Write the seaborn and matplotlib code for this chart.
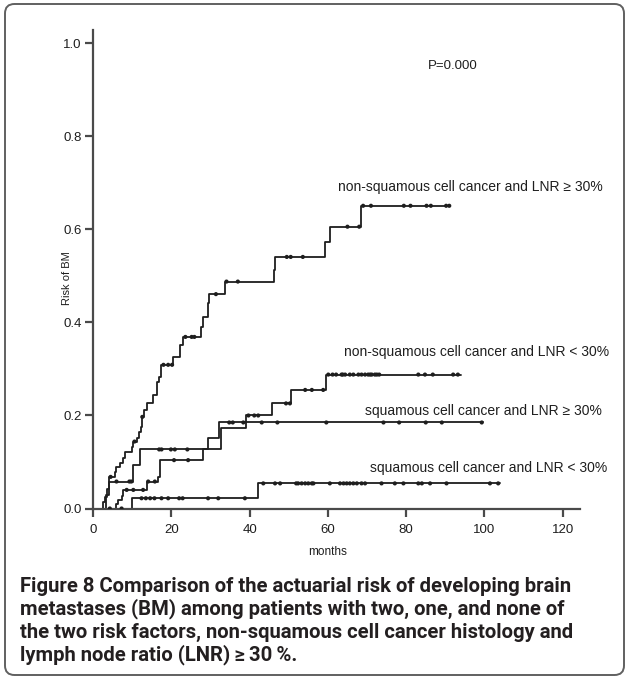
import numpy as np
import pandas as pd
import seaborn as sns
import matplotlib
matplotlib.use("Agg")
import matplotlib.pyplot as plt
from matplotlib.patches import FancyBboxPatch

# step curves (months, cumulative risk)
labels = [
    "non-squamous cell cancer and LNR \u2265 30%",
    "non-squamous cell cancer and LNR < 30%",
    "squamous cell cancer and LNR \u2265 30%",
    "squamous cell cancer and LNR < 30%",
]

times_a = [0, 2.6, 3.1, 3.7, 4.0, 5.6, 6.0, 6.9, 7.7, 8.3, 10.0, 10.3, 11.2, 11.8,
           12.2, 12.4, 13.0, 13.7, 15.2, 16.4, 16.9, 17.3, 20.5, 22.2, 23.0, 27.5,
           28.0, 29.5, 29.7, 33.7, 46.2, 46.5, 59.3, 60.5, 68.4, 91.2]
risk_a = [0, 0.015, 0.025, 0.043, 0.068, 0.079, 0.09, 0.097, 0.108, 0.122, 0.133,
          0.144, 0.151, 0.165, 0.176, 0.197, 0.212, 0.226, 0.244, 0.273, 0.283, 0.309,
          0.326, 0.351, 0.369, 0.391, 0.412, 0.441, 0.461, 0.488, 0.513, 0.541, 0.573,
          0.606, 0.651, 0.651]
cens_a = [4.5, 10.6, 12.6, 18.0, 19.2, 20.2, 23.6, 25.2, 25.9, 31.4, 34.1, 37.0,
          49.5, 50.5, 53.6, 65.0, 68.0, 69.0, 71.0, 79.4, 81.1, 85.2, 86.3, 90.2, 91.0]

times_b = [0, 6.0, 6.5, 7.3, 7.7, 13.7, 16.7, 17.1, 28.2, 32.6, 39.0, 45.6, 50.7, 59.6, 94.0]
risk_b = [0, 0.009, 0.018, 0.027, 0.04, 0.058, 0.068, 0.104, 0.127, 0.174, 0.2,
          0.226, 0.255, 0.288, 0.288]
cens_b = [8.6, 10.3, 12.8, 14.1, 15.8, 20.7, 24.3, 39.7, 41.2, 42.2, 49.3, 50.3,
          54.2, 55.9, 58.8, 60.1, 61.2, 62.1, 63.5, 63.8, 64.4, 65.6, 66.5, 67.8,
          68.6, 69.5, 70.3, 70.8, 71.2, 72.0, 72.5, 73.1, 83.1, 84.8, 86.8, 92.0, 93.2]

times_c = [0, 3.3, 4.2, 10.1, 12.1, 29.5, 32.3, 99.5]
risk_c = [0, 0.03, 0.058, 0.094, 0.127, 0.151, 0.185, 0.185]
cens_c = [6.0, 9.3, 9.8, 16.9, 17.5, 19.9, 20.9, 24.1, 34.8, 35.7, 38.4, 43.1, 47.1,
          59.6, 74.2, 78.2, 85.0, 89.1, 99.3]

times_d = [0, 9.9, 42.1, 104.0]
risk_d = [0, 0.022, 0.054, 0.054]
cens_d = [4.3, 7.3, 12.4, 13.5, 14.6, 15.7, 17.5, 19.2, 22.0, 22.9, 29.4, 32.0, 38.8,
          43.5, 46.5, 47.8, 51.9, 52.4, 53.3, 54.2, 55.0, 55.9, 56.3, 60.5, 63.1, 64.0,
          64.8, 65.6, 66.5, 67.4, 68.6, 69.5, 73.7, 77.1, 79.3, 83.1, 84.0, 86.1, 90.3,
          101.4, 103.5]

# label positions (months, risk) - left aligned text
label_x = [62.6, 64.0, 69.5, 70.7]
label_y = [0.692, 0.337, 0.21, 0.088]

p_text = "P=0.000"
caption = [
    "Figure 8 Comparison of the actuarial risk of developing brain",
    "metastases (BM) among patients with two, one, and none of",
    "the two risk factors, non-squamous cell cancer histology and",
    "lymph node ratio (LNR)\u2009\u2265\u200930\u2009%.",
]

curves = [(times_a, risk_a, cens_a), (times_b, risk_b, cens_b),
          (times_c, risk_c, cens_c), (times_d, risk_d, cens_d)]

line_rows, mark_rows = [], []
for lab, (t, r, c) in zip(labels, curves):
    for ti, ri in zip(t, r):
        line_rows.append((lab, ti, ri))
    t_arr, r_arr = np.array(t), np.array(r)
    for ci in c:
        idx = np.searchsorted(t_arr, ci, side="right") - 1
        mark_rows.append((lab, ci, r_arr[idx]))
lines = pd.DataFrame(line_rows, columns=["group", "months", "risk"])
marks = pd.DataFrame(mark_rows, columns=["group", "months", "risk"])

sns.set_style("ticks")
plt.rcParams["font.family"] = ["Liberation Sans", "DejaVu Sans"]

fig = plt.figure(figsize=(6.29, 6.79), dpi=100)
ax = fig.add_axes([93 / 629, 1 - 508.5 / 679, 487 / 629, 478.5 / 679])

ink = "#1e1e1e"
pal = {lab: ink for lab in labels}
sns.lineplot(data=lines, x="months", y="risk", hue="group", palette=pal,
             estimator=None, sort=False, drawstyle="steps-post", lw=1.3,
             legend=False, ax=ax)
sns.scatterplot(data=marks, x="months", y="risk", hue="group", palette=pal,
                s=9, marker="o", edgecolor="none", legend=False, ax=ax, zorder=3)

ax.set_xlim(0, 124.4)
ax.set_ylim(0, 1.029)
ax.set_xticks(np.arange(0, 121, 20))
ax.set_yticks(np.arange(0, 1.01, 0.2))
ax.set_yticklabels([f"{v:.1f}" for v in np.arange(0, 1.01, 0.2)])
ax.set_xlabel("")
ax.set_ylabel("")
sns.despine(ax=ax)
for s in ["left", "bottom"]:
    ax.spines[s].set_color("#4a4a4a")
    ax.spines[s].set_linewidth(1.6)
ax.tick_params(axis="both", length=6, width=1.6, color="#4a4a4a",
               labelsize=9.5, labelcolor=ink, pad=2)
ax.tick_params(axis="x", pad=5)

for lab, lx, ly in zip(labels, label_x, label_y):
    ax.text(lx, ly, lab, fontsize=10, color=ink, ha="left", va="center")
ax.text(92, 0.952, p_text, fontsize=9.5, color=ink, ha="center", va="center")

fig.text(328 / 629, 1 - 552 / 679, "months", fontsize=8.5, color=ink,
         ha="center", va="center")
fig.text(67 / 629, 1 - 278 / 679, "Risk of BM", fontsize=8, color=ink,
         rotation=90, ha="center", va="center")

cap_font = ["Roboto", "Liberation Sans", "DejaVu Sans"]
for i, line in enumerate(caption):
    fig.text(20 / 629, 1 - (586 + 23 * i) / 679, line, fontsize=14.6,
             fontweight="bold", family=cap_font, color="#231f20",
             ha="left", va="center")

border = FancyBboxPatch((5 / 629, 4 / 679), 619 / 629, 671 / 679,
                        boxstyle="round,pad=0,rounding_size=0.015",
                        mutation_aspect=629 / 679,
                        transform=fig.transFigure, fill=False,
                        ec="#606060", lw=1.4)
fig.patches.append(border)

fig.savefig("out.png", dpi=100)
